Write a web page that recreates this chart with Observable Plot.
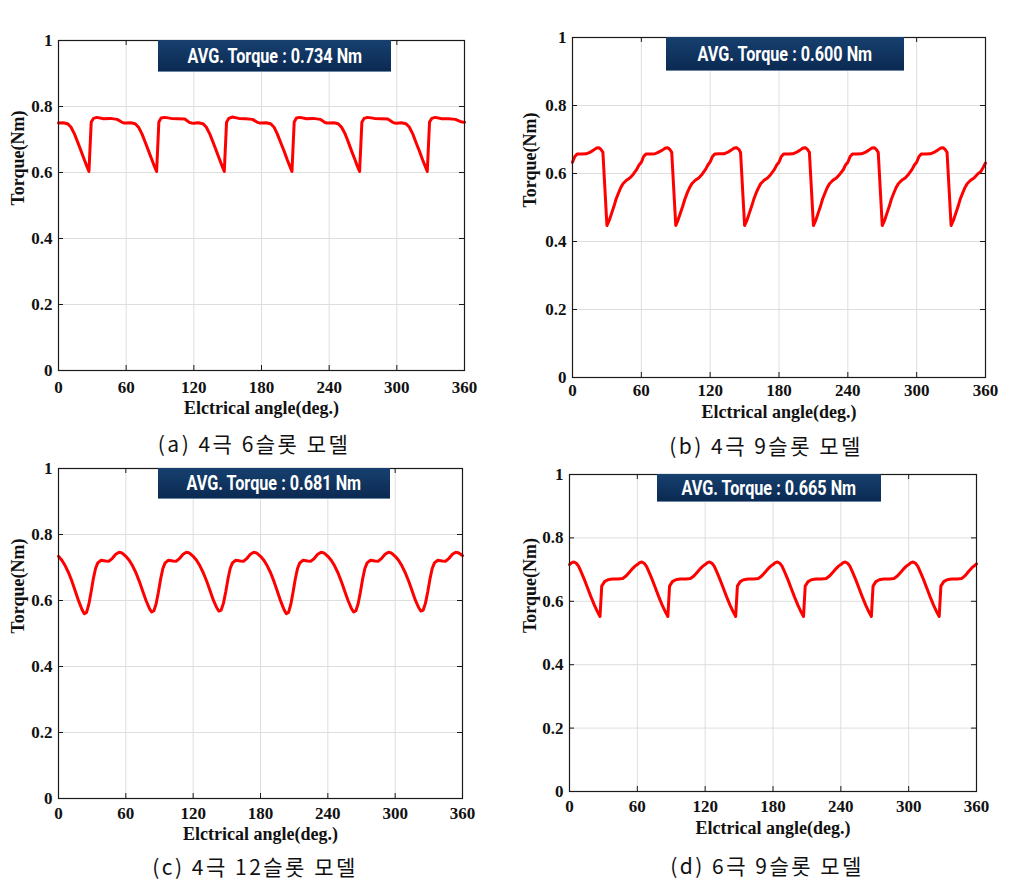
<!DOCTYPE html>
<html><head><meta charset="utf-8">
<script src="https://cdn.jsdelivr.net/npm/d3@7"></script>
<script src="https://cdn.jsdelivr.net/npm/@observablehq/plot@0.6"></script>
<style>
html,body{margin:0;padding:0;background:#fff;}
body{width:1015px;height:884px;position:relative;overflow:hidden;}
.panel{position:absolute;}
.avg{position:absolute;background:linear-gradient(#17406f,#0b2a52);color:#fff;font-family:Roboto,"Liberation Sans",sans-serif;font-weight:bold;font-size:20px;display:flex;align-items:center;justify-content:center;box-sizing:border-box;border-bottom:1px solid #6d86a6;}
.avg span{display:inline-block;transform:scaleX(0.81);white-space:nowrap;}
.cap{position:absolute;font-family:"Noto Sans CJK KR",sans-serif;font-size:21px;transform:translate(-50%,-50%);white-space:nowrap;letter-spacing:2.5px;color:#111;}
</style></head><body>
<script>
// ---- shared axis definitions ----
const xTicks = [0, 60, 120, 180, 240, 300, 360];
const yTicks = [0, 0.2, 0.4, 0.6, 0.8, 1];
const xTitle = "Elctrical angle(deg.)";
const yTitle = "Torque(Nm)";
const avgLabels = ["AVG. Torque : 0.734 Nm", "AVG. Torque : 0.600 Nm", "AVG. Torque : 0.681 Nm", "AVG. Torque : 0.665 Nm"];
const captions = ["(a) 4극 6슬롯 모델", "(b) 4극 9슬롯 모델", "(c) 4극 12슬롯 모델", "(d) 6극 9슬롯 모델"];

// ---- (a) 4-pole 6-slot ----
const anglesA = [
  0,4,8,11,14,17,20,23,25,27,29,31,34,40,46,52,56,58,
  60,64,68,71,74,77,80,83,85,87,89,91,94,100,106,112,116,118,
  120,124,128,131,134,137,140,143,145,147,149,151,154,160,166,172,176,178,
  180,184,188,191,194,197,200,203,205,207,209,211,214,220,226,232,236,238,
  240,244,248,251,254,257,260,263,265,267,269,271,274,280,286,292,296,298,
  300,304,308,311,314,317,320,323,325,327,329,331,334,340,346,352,356,358,360];
const torqueA = [
  0.750,0.751,0.748,0.738,0.718,0.692,0.665,0.638,0.620,0.603,0.752,0.764,0.767,0.763,0.764,0.761,0.753,0.750,
  0.750,0.751,0.748,0.737,0.717,0.691,0.664,0.637,0.619,0.603,0.753,0.765,0.767,0.764,0.763,0.762,0.752,0.750,
  0.749,0.751,0.748,0.738,0.718,0.692,0.665,0.638,0.620,0.603,0.752,0.764,0.768,0.764,0.763,0.761,0.753,0.750,
  0.750,0.751,0.748,0.738,0.717,0.691,0.665,0.637,0.620,0.603,0.753,0.765,0.767,0.763,0.764,0.761,0.752,0.750,
  0.750,0.751,0.748,0.737,0.718,0.692,0.664,0.638,0.619,0.603,0.752,0.764,0.767,0.764,0.763,0.762,0.753,0.750,
  0.749,0.751,0.748,0.738,0.718,0.691,0.665,0.637,0.620,0.603,0.753,0.764,0.767,0.763,0.763,0.761,0.755,0.753,0.752];

// ---- (b) 4-pole 9-slot ----
const anglesB = [
  0,2,4,8,12,15,18,21,23,25,26.5,30,32,34,36,38,40,42,44,47,50,53,56,58,
  60,62,64,68,72,75,78,81,83,85,86.5,90,92,94,96,98,100,102,104,107,110,113,116,118,
  120,122,124,128,132,135,138,141,143,145,146.5,150,152,154,156,158,160,162,164,167,170,173,176,178,
  180,182,184,188,192,195,198,201,203,205,206.5,210,212,214,216,218,220,222,224,227,230,233,236,238,
  240,242,244,248,252,255,258,261,263,265,266.5,270,272,274,276,278,280,282,284,287,290,293,296,298,
  300,302,304,308,312,315,318,321,323,325,326.5,330,332,334,336,338,340,342,344,347,350,353,356,358,360];
const torqueB = [
  0.633,0.650,0.657,0.657,0.658,0.662,0.668,0.675,0.676,0.670,0.662,0.447,0.462,0.482,0.502,0.525,0.542,0.558,0.570,0.580,0.587,0.598,0.612,0.625,
  0.633,0.650,0.657,0.657,0.658,0.663,0.668,0.675,0.676,0.670,0.662,0.447,0.463,0.483,0.503,0.525,0.543,0.558,0.570,0.580,0.587,0.598,0.612,0.625,
  0.634,0.650,0.657,0.658,0.658,0.662,0.668,0.675,0.676,0.671,0.662,0.447,0.462,0.482,0.502,0.524,0.542,0.557,0.570,0.580,0.587,0.598,0.612,0.625,
  0.633,0.650,0.657,0.657,0.658,0.662,0.668,0.675,0.676,0.670,0.662,0.447,0.462,0.482,0.502,0.525,0.542,0.558,0.570,0.580,0.587,0.598,0.611,0.625,
  0.633,0.650,0.657,0.657,0.658,0.662,0.668,0.675,0.676,0.670,0.662,0.447,0.462,0.482,0.502,0.525,0.542,0.558,0.570,0.580,0.587,0.598,0.612,0.625,
  0.633,0.650,0.657,0.657,0.658,0.662,0.668,0.675,0.676,0.670,0.662,0.447,0.462,0.482,0.502,0.525,0.542,0.558,0.570,0.580,0.587,0.598,0.606,0.618,0.631];

// ---- (c) 4-pole 12-slot ----
const anglesC = [
  0,3,6,9,12,15,18,21,23,25,27,29,31,33,35,38,42,45,48,51,54,56,58,
  60,63,66,69,72,75,78,81,83,85,87,89,91,93,95,98,102,105,108,111,114,116,118,
  120,123,126,129,132,135,138,141,143,145,147,149,151,153,155,158,162,165,168,171,174,176,178,
  180,183,186,189,192,195,198,201,203,205,207,209,211,213,215,218,222,225,228,231,234,236,238,
  240,243,246,249,252,255,258,261,263,265,267,269,271,273,275,278,282,285,288,291,294,296,298,
  300,303,306,309,312,315,318,321,323,325,327,329,331,333,335,338,342,345,348,351,354,356,358,360];
const torqueC = [
  0.734,0.722,0.705,0.684,0.658,0.628,0.598,0.572,0.560,0.564,0.588,0.625,0.665,0.697,0.714,0.722,0.720,0.719,0.728,0.740,0.746,0.745,0.740,
  0.734,0.722,0.705,0.684,0.658,0.629,0.600,0.576,0.565,0.569,0.590,0.625,0.665,0.697,0.714,0.722,0.720,0.719,0.728,0.740,0.746,0.745,0.740,
  0.734,0.722,0.705,0.684,0.659,0.630,0.601,0.578,0.568,0.571,0.592,0.626,0.665,0.697,0.714,0.722,0.720,0.719,0.728,0.740,0.746,0.745,0.740,
  0.734,0.722,0.705,0.684,0.658,0.628,0.598,0.572,0.560,0.564,0.588,0.625,0.665,0.697,0.714,0.722,0.720,0.719,0.728,0.740,0.746,0.745,0.740,
  0.734,0.722,0.705,0.684,0.658,0.629,0.600,0.576,0.565,0.569,0.590,0.625,0.665,0.697,0.714,0.722,0.720,0.719,0.728,0.740,0.746,0.745,0.740,
  0.734,0.722,0.705,0.684,0.659,0.630,0.601,0.578,0.568,0.571,0.592,0.626,0.665,0.697,0.714,0.722,0.720,0.719,0.728,0.740,0.746,0.745,0.741,0.736];

// ---- (d) 6-pole 9-slot ----
const anglesD = [
  0,2,4,6,8,10,13,16,19,22,25,27,28.5,31,34,38,43,47,50,53,56,58,
  60,62,64,66,68,70,73,76,79,82,85,87,88.5,91,94,98,103,107,110,113,116,118,
  120,122,124,126,128,130,133,136,139,142,145,147,148.5,151,154,158,163,167,170,173,176,178,
  180,182,184,186,188,190,193,196,199,202,205,207,208.5,211,214,218,223,227,230,233,236,238,
  240,242,244,246,248,250,253,256,259,262,265,267,268.5,271,274,278,283,287,290,293,296,298,
  300,302,304,306,308,310,313,316,319,322,325,327,328.5,331,334,338,343,347,350,353,356,358,360];
const torqueD = [
  0.716,0.722,0.724,0.720,0.711,0.695,0.670,0.642,0.614,0.588,0.565,0.552,0.648,0.662,0.668,0.670,0.670,0.672,0.680,0.692,0.704,0.711,
  0.716,0.722,0.724,0.720,0.711,0.695,0.670,0.642,0.614,0.588,0.565,0.552,0.648,0.662,0.668,0.670,0.670,0.672,0.680,0.692,0.704,0.711,
  0.716,0.722,0.724,0.720,0.711,0.695,0.670,0.642,0.614,0.588,0.565,0.552,0.648,0.662,0.668,0.670,0.670,0.672,0.680,0.692,0.704,0.711,
  0.716,0.722,0.724,0.720,0.711,0.695,0.670,0.642,0.614,0.588,0.565,0.552,0.648,0.662,0.668,0.670,0.670,0.672,0.680,0.692,0.704,0.711,
  0.716,0.722,0.724,0.720,0.711,0.695,0.670,0.642,0.614,0.588,0.565,0.552,0.648,0.662,0.668,0.670,0.670,0.672,0.680,0.692,0.704,0.711,
  0.716,0.722,0.724,0.720,0.711,0.695,0.670,0.642,0.614,0.588,0.565,0.552,0.648,0.662,0.668,0.670,0.670,0.672,0.681,0.694,0.706,0.712,0.718];

// ---- layout (pixels) ----
const panels = [
  {angles: anglesA, torque: torqueA, left: 0,   top: 30,  width: 480, height: 400, ml: 58, mr: 16, mt: 10, mb: 60, xpad: 10, xdy: 43, ydx: -40,
   box: [158, 40, 233, 32], cap: [254, 443]},
  {angles: anglesB, torque: torqueB, left: 510, top: 27,  width: 490, height: 420, ml: 62, mr: 15, mt: 10, mb: 70, xpad: 6,  xdy: 40, ydx: -42,
   box: [666, 37, 238, 34], cap: [766, 445]},
  {angles: anglesC, torque: torqueC, left: 0,   top: 458, width: 480, height: 400, ml: 58, mr: 18, mt: 10, mb: 60, xpad: 8,  xdy: 41, ydx: -40,
   box: [158, 468, 232, 31], cap: [255, 866]},
  {angles: anglesD, torque: torqueD, left: 510, top: 464, width: 490, height: 400, ml: 59, mr: 24, mt: 10, mb: 73, xpad: 8,  xdy: 42, ydx: -39,
   box: [657, 474, 224, 28], cap: [767, 865]}
];

const axisColor = "#1a1a1a";
panels.forEach((p, i) => {
  const data = p.angles.map((a, j) => ({angle: a, torque: p.torque[j]}));
  const pw = p.width - p.ml - p.mr, ph = p.height - p.mt - p.mb;
  const chart = Plot.plot({
    width: p.width, height: p.height,
    marginLeft: p.ml, marginRight: p.mr, marginTop: p.mt, marginBottom: p.mb,
    style: {fontFamily: '"Liberation Serif", "Times New Roman", serif', fontSize: "17px", fontWeight: "bold", color: "#111", background: "transparent", overflow: "visible"},
    x: {domain: [0, 360]},
    y: {domain: [0, 1]},
    marks: [
      Plot.gridX(xTicks, {stroke: "#dedede", strokeOpacity: 1}),
      Plot.gridY(yTicks, {stroke: "#dedede", strokeOpacity: 1}),
      Plot.line(data, {x: "angle", y: "torque", stroke: "#ff0000", strokeWidth: 3}),
      Plot.frame({stroke: axisColor, strokeWidth: 1.2}),
      Plot.tickX(xTicks, {x: d => d, insetTop: ph - 5, stroke: axisColor}),
      Plot.tickX(xTicks, {x: d => d, insetBottom: ph - 5, stroke: axisColor}),
      Plot.tickY(yTicks, {y: d => d, insetRight: pw - 5, stroke: axisColor}),
      Plot.tickY(yTicks, {y: d => d, insetLeft: pw - 5, stroke: axisColor}),
      Plot.axisX(xTicks, {tickSize: 0, tickPadding: p.xpad, tickFormat: d => String(d), label: null}),
      Plot.axisY(yTicks, {tickSize: 0, tickPadding: 6, tickFormat: d => String(d), label: null}),
      Plot.text([xTitle], {frameAnchor: "bottom", dy: p.xdy, fontSize: 18, fontWeight: "bold", fill: "#111"}),
      Plot.text([yTitle], {frameAnchor: "left", dx: p.ydx, rotate: -90, fontSize: 18, fontWeight: "bold", fill: "#111"})
    ]
  });
  chart.classList.add("panel");
  chart.style.left = p.left + "px";
  chart.style.top = p.top + "px";
  document.body.appendChild(chart);

  const box = document.createElement("div");
  box.className = "avg";
  box.style.left = p.box[0] + "px"; box.style.top = p.box[1] + "px";
  box.style.width = p.box[2] + "px"; box.style.height = p.box[3] + "px";
  const sp = document.createElement("span"); sp.textContent = avgLabels[i];
  box.appendChild(sp);
  document.body.appendChild(box);

  const cap = document.createElement("div");
  cap.className = "cap";
  cap.style.left = p.cap[0] + "px"; cap.style.top = p.cap[1] + "px";
  cap.textContent = captions[i];
  document.body.appendChild(cap);
});
</script>
</body></html>
